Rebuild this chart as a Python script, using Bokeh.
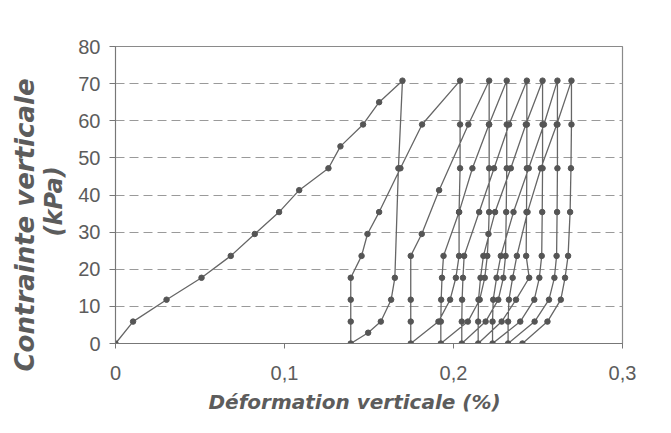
from bokeh.plotting import figure
from bokeh.models import FixedTicker, Range1d, Title
from bokeh.embed import file_html
from bokeh.resources import INLINE

# ---- data (deformation in %, stress in kPa) ----
load1_def = [0, 0.0104, 0.0302, 0.0509, 0.0682, 0.0824, 0.0968, 0.1087, 0.1260, 0.1331, 0.1465, 0.1560, 0.1698]
load1_sig = [0, 5.9, 11.8, 17.7, 23.6, 29.5, 35.4, 41.3, 47.2, 53.1, 59.0, 65.0, 70.8]

unload1_def = [0.1698, 0.1674, 0.1653, 0.1631, 0.1570, 0.1495, 0.1392]
unload1_sig = [70.8, 47.2, 17.7, 11.8, 5.9, 2.9, 0]

reload2_def = [0.1392, 0.1392, 0.1392, 0.1392, 0.1456, 0.1491, 0.1560, 0.1686, 0.1814, 0.2039]
reload2_sig = [0, 5.9, 11.8, 17.7, 23.6, 29.5, 35.4, 47.2, 59.0, 70.8]

unload_sig = [70.8, 59.0, 47.2, 35.4, 23.6, 17.7, 11.8, 5.9, 0]
reload_sig = [0, 5.9, 11.8, 17.7, 23.6, 35.4, 47.2, 59.0, 70.8]

unload2_def = [0.2039, 0.2039, 0.2039, 0.2033, 0.2033, 0.2014, 0.1980, 0.1911, 0.1747]

reload3_def = [0.1747, 0.1747, 0.1747, 0.1747, 0.1812, 0.1915, 0.2088, 0.2211]
reload3_sig = [0, 5.9, 11.8, 23.6, 29.5, 41.3, 59.0, 70.8]

unload3_def = [0.2211, 0.2211, 0.2211, 0.2211, 0.2207, 0.2200, 0.2185, 0.2155, 0.2085, 0.1925]
unload3_sig = [70.8, 59.0, 47.2, 35.4, 29.5, 23.6, 17.7, 11.8, 5.9, 0]

reload4_def = [0.1925, 0.1925, 0.1927, 0.1932, 0.1941, 0.2033, 0.2112, 0.2210, 0.2315]
unload4_def = [0.2315, 0.2315, 0.2315, 0.2312, 0.2308, 0.2295, 0.2265, 0.2190, 0.2049]

reload5_def = [0.2049, 0.2049, 0.2051, 0.2056, 0.2063, 0.2152, 0.2240, 0.2329, 0.2434]
unload5_def = [0.2434, 0.2434, 0.2434, 0.2432, 0.2430, 0.2448, 0.2370, 0.2285, 0.2146]

reload6_def = [0.2146, 0.2146, 0.2148, 0.2160, 0.2177, 0.2246, 0.2339, 0.2428, 0.2527]
unload6_def = [0.2527, 0.2527, 0.2527, 0.2525, 0.2522, 0.2508, 0.2478, 0.2395, 0.2231]

reload7_def = [0.2231, 0.2231, 0.2235, 0.2255, 0.2280, 0.2355, 0.2445, 0.2535, 0.2615]
unload7_def = [0.2615, 0.2615, 0.2615, 0.2613, 0.2610, 0.2597, 0.2565, 0.2480, 0.2323]

reload8_def = [0.2323, 0.2323, 0.2328, 0.2350, 0.2375, 0.2438, 0.2517, 0.2611, 0.2698]
unload8_def = [0.2698, 0.2698, 0.2695, 0.2690, 0.2678, 0.2660, 0.2635, 0.2556, 0.2408]

x_ticks = [0, 0.1, 0.2, 0.3]
x_tick_labels = ["0", "0,1", "0,2", "0,3"]
y_ticks = [0, 10, 20, 30, 40, 50, 60, 70, 80]
grid_ticks = [10, 20, 30, 40, 50, 60, 70]

x_title = "Déformation verticale (%)"
y_title_1 = "Contrainte  verticale"
y_title_2 = "(kPa)"

branches = [
    (load1_def, load1_sig), (unload1_def, unload1_sig),
    (reload2_def, reload2_sig), (unload2_def, unload_sig),
    (reload3_def, reload3_sig), (unload3_def, unload3_sig),
    (reload4_def, reload_sig), (unload4_def, unload_sig),
    (reload5_def, reload_sig), (unload5_def, unload_sig),
    (reload6_def, reload_sig), (unload6_def, unload_sig),
    (reload7_def, reload_sig), (unload7_def, unload_sig),
    (reload8_def, reload_sig), (unload8_def, unload_sig),
]
xs, ys = [], []
for bx, by in branches:
    if xs and xs[-1] == bx[0] and ys[-1] == by[0]:
        xs.extend(bx[1:]); ys.extend(by[1:])
    else:
        xs.extend(bx); ys.extend(by)

TXT = "#5c5c5c"
TITLE_FONT = dict(text_font="DejaVu Sans", text_font_style="bold italic", text_color=TXT)

p = figure(width=663, height=425, output_backend="svg", toolbar_location=None,
           x_range=Range1d(0, 0.3), y_range=Range1d(0, 80),
           min_border_left=115, min_border_right=41, min_border_top=46, min_border_bottom=82)
p.background_fill_color = "#ffffff"
p.border_fill_color = "#ffffff"
p.outline_line_color = "#8a8a8a"
p.outline_line_width = 1.2

p.xgrid.visible = False
p.ygrid.ticker = FixedTicker(ticks=grid_ticks)
p.ygrid.grid_line_color = "#9a9a9a"
p.ygrid.grid_line_dash = "9 5"
p.ygrid.grid_line_width = 1

p.xaxis.ticker = FixedTicker(ticks=x_ticks)
p.xaxis.major_label_overrides = dict(zip(x_ticks, x_tick_labels))
p.yaxis.ticker = FixedTicker(ticks=y_ticks)

for ax in (p.xaxis[0], p.yaxis[0]):
    ax.minor_tick_line_color = None
    ax.major_tick_in = 0
    ax.axis_line_color = "#777777"
    ax.major_tick_line_color = "#777777"
    ax.major_label_text_font = "Liberation Sans"
    ax.major_label_text_font_size = "20px"
    ax.major_label_text_color = TXT

p.xaxis.major_tick_out = 5
p.xaxis.major_label_standoff = 17
p.yaxis.major_tick_out = 6
p.yaxis.major_label_standoff = 9

# x-axis title below the tick labels
p.add_layout(Title(text=x_title, align="left", vertical_align="top", offset=93, standoff=14,
                   text_font_size="20px", **TITLE_FONT), "below")

# y-axis title: two rotated lines stacked in the left panel
p.add_layout(Title(text=y_title_2, align="left", vertical_align="middle", offset=107, standoff=13,
                   text_font_size="24px", **TITLE_FONT), "left")
p.add_layout(Title(text=y_title_1, align="left", vertical_align="middle", offset=-28, standoff=-17,
                   text_font_size="26px", **TITLE_FONT), "left")

p.line(xs, ys, line_color="#666666", line_width=1.3)
p.scatter(xs, ys, size=5.5, fill_color="#555555", line_color="#555555")

open("out.html", "w").write(file_html(p, INLINE))
